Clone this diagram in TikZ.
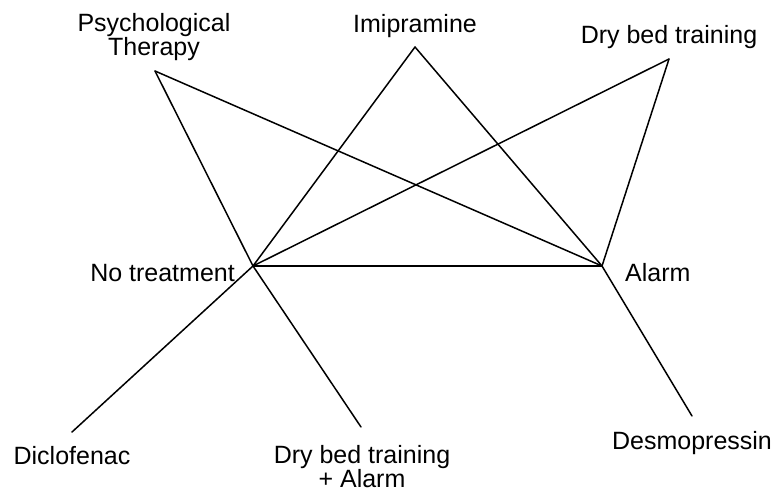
\documentclass[tikz,border=0pt]{standalone}
\usepackage{fontspec}
\setmainfont{Liberation Sans}
\begin{document}
\begin{tikzpicture}[x=1pt,y=-1pt,
  lbl/.style={font=\fontsize{25}{24}\selectfont, inner sep=0pt, align=center},
  edge/.style={line width=1.5pt, line cap=round}]
\useasboundingbox[fill=white] (0,0) rectangle (776,493);
% points
\coordinate (pt) at (155,71);
\coordinate (imi) at (415,47);
\coordinate (dbt) at (669,59);
\coordinate (nt) at (253,266);
\coordinate (al) at (602,266);
\coordinate (dic) at (72,432);
\coordinate (dba) at (361,427);
\coordinate (des) at (692,416);
% labels
\node[lbl, anchor=base] (ptl) at (154,55) {Psychological\\Therapy};
\node[lbl, anchor=base] (imil) at (415,32) {Imipramine};
\node[lbl, anchor=base] (dbtl) at (669,43) {Dry bed training};
\node[lbl, anchor=base east] (ntl) at (235,281) {No treatment};
\node[lbl, anchor=base west] (all) at (625,281) {Alarm};
\node[lbl, anchor=base] (dicl) at (72,464) {Diclofenac};
\node[lbl, anchor=base] (dbal) at (362,487) {Dry bed training\\+ Alarm};
\node[lbl, anchor=base] (desl) at (692,449) {Desmopressin};
% connectors
\draw[edge] (pt) -- (al);
\draw[edge] (pt) -- (nt);
\draw[edge] (nt) -- (dba);
\draw[edge] (imi) -- (nt);
\draw[edge] (imi) -- (al);
\draw[edge] (dbt) -- (nt);
\draw[edge] (dbt) -- (al);
\draw[edge] (nt) -- (al);
\draw[edge] (nt) -- (dic);
\draw[edge] (al) -- (des);
\end{tikzpicture}
\end{document}
